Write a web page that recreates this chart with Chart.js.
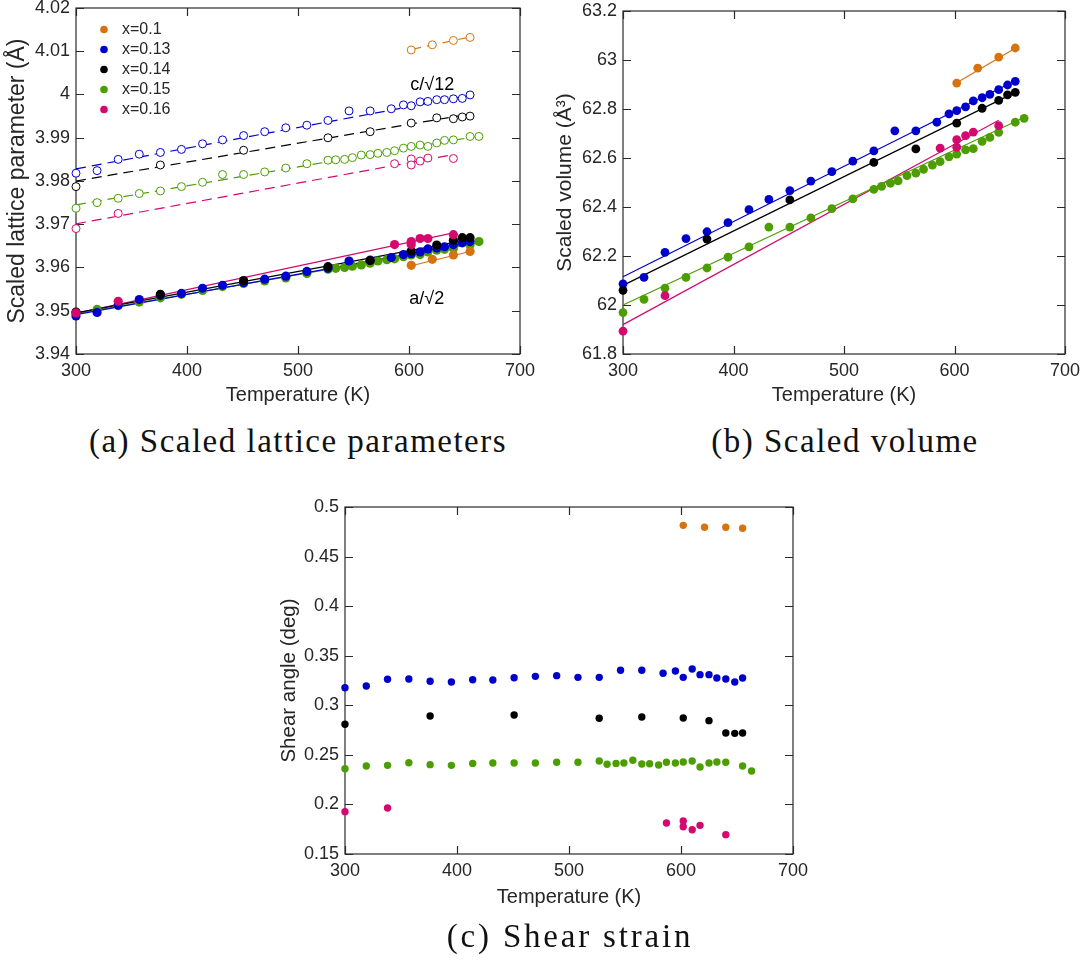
<!DOCTYPE html>
<html><head><meta charset="utf-8">
<script src="https://cdn.jsdelivr.net/npm/chart.js@4.4.1/dist/chart.umd.min.js"></script>
<style>
html,body{margin:0;padding:0;background:#fff;}
body{width:1083px;height:961px;position:relative;overflow:hidden;}
canvas{position:absolute;}
.cap{position:absolute;font-family:"Liberation Serif","Times New Roman",serif;font-size:33px;letter-spacing:1.5px;line-height:40px;color:#111;white-space:nowrap;transform:translateX(-50%);}
</style></head><body>
<canvas id="ca" width="540" height="420" style="left:0;top:0"></canvas>
<canvas id="cb" width="540" height="420" style="left:543px;top:0"></canvas>
<canvas id="cc" width="540" height="440" style="left:270px;top:480px"></canvas>
<div class="cap" style="left:298px;top:421px">(a) Scaled lattice parameters</div>
<div class="cap" style="left:845px;top:421px">(b) Scaled volume</div>
<div class="cap" style="left:570px;top:916px;letter-spacing:2.8px">(c) Shear strain</div>
<script>
// ---------- data ----------
const CATS = ['x=0.1','x=0.13','x=0.14','x=0.15','x=0.16'];
const T010 = [602,621,640,655];
const T013 = [300,319,338,357,376,395,414,432,451,470,489,508,527,546,565,584,595,602,610,617,625,632,640,648,655];
const T014 = [300,376,451,527,565,602,625,640,648,655];
const T015 = [300,319,338,357,376,395,414,432,451,470,489,508,527,534,542,549,557,565,572,580,587,595,602,610,617,625,632,640,655,663];
const T016 = [300,338,587,602,602,610,617,640];

// (a) c/sqrt12 (open circles)
const c010 = [4.0103,4.0115,4.0125,4.0132];
const c013 = [3.9818,3.9824,3.9850,3.9862,3.9866,3.9873,3.9886,3.9895,3.9905,3.9914,3.9923,3.9929,3.9940,3.9962,3.9962,3.9967,3.9976,3.9974,3.9983,3.9984,3.9988,3.9988,3.9990,3.9991,3.9999];
const c014 = [3.9787,3.9837,3.9871,3.9900,3.9914,3.9934,3.9946,3.9944,3.9948,3.9950];
const c015 = [3.9737,3.9750,3.9760,3.9771,3.9777,3.9787,3.9797,3.9815,3.9815,3.9821,3.9830,3.9840,3.9848,3.9849,3.9850,3.9854,3.9860,3.9861,3.9864,3.9866,3.9870,3.9876,3.9880,3.9883,3.9880,3.9888,3.9894,3.9895,3.9903,3.9903];
const c016 = [3.9690,3.9725,3.9840,3.9851,3.9837,3.9846,3.9853,3.9852];
// (a) a/sqrt2 (filled)
const a010 = [3.9605,3.9619,3.9629,3.9637];
const a013 = [3.9488,3.9496,3.9513,3.9526,3.9535,3.9540,3.9552,3.9559,3.9565,3.9573,3.9580,3.9591,3.9598,3.9615,3.9617,3.9623,3.9630,3.9632,3.9636,3.9643,3.9645,3.9648,3.9653,3.9657,3.9660];
const a014 = [3.9497,3.9538,3.9570,3.9602,3.9616,3.9638,3.9652,3.9663,3.9669,3.9669];
const a015 = [3.9495,3.9503,3.9512,3.9520,3.9530,3.9538,3.9547,3.9556,3.9563,3.9569,3.9576,3.9586,3.9596,3.9598,3.9600,3.9603,3.9606,3.9610,3.9615,3.9618,3.9620,3.9625,3.9629,3.9630,3.9636,3.9640,3.9642,3.9644,3.9652,3.9660];
const a016 = [3.9495,3.9522,3.9653,3.9660,3.9653,3.9667,3.9667,3.9676];
// (b) scaled volume
const v010 = [62.906,62.967,63.012,63.049];
const v013 = [62.086,62.113,62.215,62.271,62.299,62.336,62.389,62.431,62.467,62.506,62.544,62.587,62.629,62.711,62.711,62.746,62.780,62.793,62.809,62.833,62.846,62.860,62.879,62.898,62.913];
const v014 = [62.060,62.269,62.429,62.582,62.637,62.742,62.803,62.835,62.858,62.868];
const v015 = [61.969,62.023,62.069,62.113,62.151,62.195,62.237,62.318,62.318,62.356,62.393,62.433,62.472,62.484,62.497,62.507,62.528,62.538,62.554,62.571,62.585,62.605,62.616,62.633,62.638,62.668,62.684,62.705,62.746,62.762];
const v016 = [61.893,62.038,62.640,62.675,62.644,62.691,62.706,62.732];
// (c) shear angle
const s010 = [0.4815,0.4795,0.4795,0.4785];
const s013 = [0.3177,0.3195,0.3262,0.3265,0.3242,0.3235,0.3258,0.3255,0.3278,0.3292,0.3299,0.3282,0.3282,0.3353,0.3353,0.3323,0.3346,0.3282,0.3366,0.3309,0.3309,0.3275,0.3265,0.3235,0.3275];
const s014 = [0.2808,0.2892,0.2902,0.2869,0.2882,0.2872,0.2845,0.2720,0.2717,0.2720];
const s015 = [0.2360,0.2387,0.2394,0.2421,0.2401,0.2394,0.2414,0.2418,0.2418,0.2418,0.2425,0.2425,0.2438,0.2405,0.2414,0.2418,0.2445,0.2408,0.2411,0.2398,0.2425,0.2418,0.2428,0.2438,0.2378,0.2418,0.2428,0.2425,0.2387,0.2337];
const s016 = [0.1927,0.1964,0.1813,0.1833,0.1775,0.1745,0.1789,0.1695];
// linear fit end points
const fitT  = [[602,655],[300,655],[300,655],[300,663],[300,640]];
const fitAa = [[3.9604,3.9637],[3.9491,3.9657],[3.9495,3.9665],[3.9493,3.9657],[3.9494,3.9680]];
const fitAc = [[4.0104,4.0133],[3.9828,3.9998],[3.9800,3.9955],[3.9745,3.9904],[3.9701,3.9861]];
const fitB  = [[62.907,63.048],[62.115,62.915],[62.080,62.868],[62.000,62.765],[61.920,62.754]];
// ticks
const xTicks = [300,400,500,600,700];
const yTicksA = [3.94,3.95,3.96,3.97,3.98,3.99,4,4.01,4.02];
const yTicksB = [61.8,62,62.2,62.4,62.6,62.8,63,63.2];
const yTicksC = [0.15,0.2,0.25,0.3,0.35,0.4,0.45,0.5];
const labelsA = [{text:'c/\u221A12', x:621, y:4.0023},{text:'a/\u221A2', x:616, y:3.9526}];

// ---------- styles ----------
const COLORS = ['#D7730F','#0000CD','#000000','#4C9E00','#D4096F'];
const PT_ORDER = [1,4,3,5,2];
const FONT = '"Liberation Sans", Arial, Helvetica, sans-serif';
const TXT = '#262626';

const TEMPS = [T010,T013,T014,T015,T016];
const A_C = [c010,c013,c014,c015,c016];
const A_A = [a010,a013,a014,a015,a016];
const B_V = [v010,v013,v014,v015,v016];
const C_S = [s010,s013,s014,s015,s016];
const pts = (T,V) => T.map((t,i)=>({x:t,y:V[i]}));

const framePlugin = {
  id:'frame',
  beforeDatasetsDraw(chart){
    const {ctx, chartArea:a, scales:{x,y}} = chart;
    ctx.save();
    ctx.strokeStyle = '#2a2a2a'; ctx.lineWidth = 1.2;
    ctx.strokeRect(a.left, a.top, a.right-a.left, a.bottom-a.top);
    const L = 8;
    ctx.beginPath();
    x.ticks.forEach(t=>{const p=Math.round(x.getPixelForValue(t.value))+0.5;
      ctx.moveTo(p,a.bottom);ctx.lineTo(p,a.bottom-L);ctx.moveTo(p,a.top);ctx.lineTo(p,a.top+L);});
    y.ticks.forEach(t=>{const p=Math.round(y.getPixelForValue(t.value))+0.5;
      ctx.moveTo(a.left,p);ctx.lineTo(a.left+L,p);ctx.moveTo(a.right,p);ctx.lineTo(a.right-L,p);});
    ctx.stroke(); ctx.restore();
  }
};
const legendPlugin = {
  id:'innerLegend',
  afterDatasetsDraw(chart){
    const {ctx, chartArea:a} = chart;
    ctx.save();
    ctx.font = '16px '+FONT; ctx.textBaseline='middle'; ctx.fillStyle=TXT;
    CATS.forEach((c,i)=>{
      const y = a.top + 21.5 + i*20;
      ctx.beginPath(); ctx.fillStyle = COLORS[i]; ctx.arc(a.left+28, y, 3.8, 0, Math.PI*2); ctx.fill();
      ctx.fillStyle = TXT; ctx.fillText(c, a.left+46, y+0.5);
    });
    ctx.restore();
  }
};
const textPlugin = {
  id:'texts',
  afterDatasetsDraw(chart){
    const {ctx, scales:{x,y}} = chart;
    ctx.save(); ctx.font='18px '+FONT; ctx.fillStyle='#000'; ctx.textAlign='center'; ctx.textBaseline='middle';
    labelsA.forEach(l=>ctx.fillText(l.text, x.getPixelForValue(l.x), y.getPixelForValue(l.y)));
    ctx.restore();
  }
};

function makeChart(id, o){
  return new Chart(document.getElementById(id), {
    type:'scatter',
    data:{datasets:o.datasets},
    options:{
      responsive:false, animation:false, devicePixelRatio:1,
      layout:{padding:{left:0, top:o.top, right:o.right, bottom:0}},
      plugins:{legend:{display:false}, tooltip:{enabled:false}},
      scales:{
        x:{type:'linear', min:300, max:700,
          afterBuildTicks:s=>{s.ticks = xTicks.map(v=>({value:v}));},
          afterFit:s=>{s.height=o.xh; s.paddingLeft=0; s.paddingRight=0;},
          ticks:{color:TXT, font:{family:FONT,size:18}, padding:6, maxRotation:0, autoSkip:false, callback:v=>String(v)},
          grid:{display:false, drawTicks:false}, border:{display:false},
          title:{display:true, text:'Temperature (K)', color:TXT, font:{family:FONT,size:20}, padding:{top:0,bottom:o.xtp}}},
        y:{type:'linear', min:o.ymin, max:o.ymax,
          afterBuildTicks:s=>{s.ticks = o.yticks.map(v=>({value:v}));},
          afterFit:s=>{s.width=o.yw; s.paddingTop=0; s.paddingBottom=0;},
          ticks:{color:TXT, font:{family:FONT,size:18}, padding:6, autoSkip:false, callback:v=>String(v)},
          grid:{display:false, drawTicks:false}, border:{display:false},
          title:{display:true, text:o.ytitle, color:TXT, font:{family:FONT,size:o.yts}, padding:{top:o.ytp,bottom:0}}}
      }
    },
    plugins:o.plugins
  });
}

// ---------- panel (a) ----------
const dsA = [];
CATS.forEach((c,i)=>{
  dsA.push({label:c+' a fit', data:pts(fitT[i],fitAa[i]), showLine:true, pointRadius:0, borderColor:COLORS[i], borderWidth:1.2, order:20, clip:false});
  dsA.push({label:c+' c fit', data:pts(fitT[i],fitAc[i]), showLine:true, pointRadius:0, borderColor:COLORS[i], borderWidth:1.2, borderDash:[10,6], order:20, clip:false});
  dsA.push({label:c+' c', data:pts(TEMPS[i],A_C[i]), pointRadius:4, pointBackgroundColor:'#fff', pointBorderColor:COLORS[i], pointBorderWidth:1, order:10+PT_ORDER[i], clip:false});
  dsA.push({label:c+' a', data:pts(TEMPS[i],A_A[i]), pointRadius:4.6, pointBackgroundColor:COLORS[i], pointBorderWidth:0, order:PT_ORDER[i], clip:false});
});
makeChart('ca',{datasets:dsA, top:8, right:20, yw:76, xh:66, xtp:13, ytp:4, yts:23, ymin:3.94, ymax:4.02, yticks:yTicksA,
  ytitle:'Scaled lattice parameter (\u00C5)', plugins:[framePlugin, legendPlugin, textPlugin]});

// ---------- panel (b) ----------
const dsB = [];
CATS.forEach((c,i)=>{
  dsB.push({label:c+' fit', data:pts(fitT[i],fitB[i]), showLine:true, pointRadius:0, borderColor:COLORS[i], borderWidth:1.2, order:20, clip:false});
  dsB.push({label:c, data:pts(TEMPS[i],B_V[i]), pointRadius:4.4, pointBackgroundColor:COLORS[i], pointBorderWidth:0, order:PT_ORDER[i], clip:false});
});
makeChart('cb',{datasets:dsB, top:11, right:18, yw:80, xh:66, xtp:13, ytp:10, yts:21, ymin:61.8, ymax:63.2, yticks:yTicksB,
  ytitle:'Scaled volume (\u00C5\u00B3)', plugins:[framePlugin]});

// ---------- panel (c) ----------
const dsC = [];
CATS.forEach((c,i)=>{
  dsC.push({label:c, data:pts(TEMPS[i],C_S[i]), pointRadius:3.7, pointBackgroundColor:COLORS[i], pointBorderWidth:0, order:PT_ORDER[i], clip:false});
});
makeChart('cc',{datasets:dsC, top:27, right:17, yw:75, xh:66, xtp:11, ytp:7.5, yts:20.5, ymin:0.15, ymax:0.5, yticks:yTicksC,
  ytitle:'Shear angle (deg)', plugins:[framePlugin]});
</script>
</body></html>
